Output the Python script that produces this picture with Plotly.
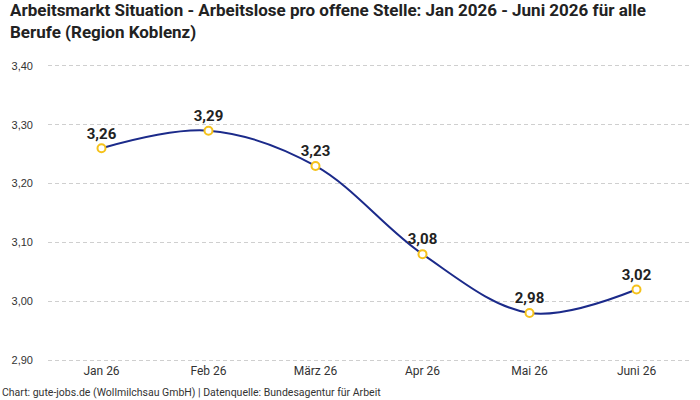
import plotly.graph_objects as go

months = ["Jan 26", "Feb 26", "März 26", "Apr 26", "Mai 26", "Juni 26"]
values = [3.26, 3.29, 3.23, 3.08, 2.98, 3.02]
labels = ["3,26", "3,29", "3,23", "3,08", "2,98", "3,02"]
ytick_vals = [2.9, 3.0, 3.1, 3.2, 3.3, 3.4]
ytick_text = ["2,90", "3,00", "3,10", "3,20", "3,30", "3,40"]

NARROW = "Liberation Sans Narrow, Roboto, sans-serif"

fig = go.Figure()
fig.add_trace(go.Scatter(
    x=months, y=values, mode="lines+markers+text",
    line=dict(color="#1b2a8a", width=2, shape="spline", smoothing=1.0),
    marker=dict(size=8, color="white", line=dict(color="#f5c21b", width=2)),
    text=labels, textposition="top center",
    textfont=dict(family=NARROW, size=15, color="#222"),
    texttemplate="<b>%{text}</b>",
    cliponaxis=False, hoverinfo="skip",
))

pad = 0.5 * 2 / 296
fig.update_layout(
    width=700, height=400,
    margin=dict(l=48, r=10, t=64, b=38),
    paper_bgcolor="white", plot_bgcolor="white",
    showlegend=False,
    xaxis=dict(
        type="category", showgrid=False, zeroline=False, showline=False,
        ticks="", tickfont=dict(family=NARROW, size=12, color="#333"),
        range=[-0.5, 5.5],
    ),
    yaxis=dict(
        range=[2.9 - pad, 3.4 + pad], tickvals=ytick_vals, ticktext=ytick_text,
        showgrid=True, gridcolor="#cfcfcf", griddash="4px,3px", gridwidth=1,
        zeroline=False, showline=False, ticks="", ticklabelstandoff=14,
        tickfont=dict(family="Liberation Sans, Arial, sans-serif", size=11, color="#333"),
    ),
)
fig.add_annotation(
    text="<b>Arbeitsmarkt Situation - Arbeitslose pro offene Stelle: Jan 2026 - Juni 2026 für alle<br>Berufe (Region Koblenz)</b>",
    xref="paper", yref="paper", x=-40/642, y=1 + 66/298, xanchor="left", yanchor="top",
    align="left", showarrow=False,
    font=dict(family=NARROW, size=17, color="#222"),
)
fig.add_annotation(
    text="Chart: gute-jobs.de (Wollmilchsau GmbH) | Datenquelle: Bundesagentur für Arbeit",
    xref="paper", yref="paper", x=-48/642, y=-30/298, xanchor="left", yanchor="middle",
    showarrow=False,
    font=dict(family=NARROW, size=10.5, color="#333"),
)
fig.write_html("out.html")
